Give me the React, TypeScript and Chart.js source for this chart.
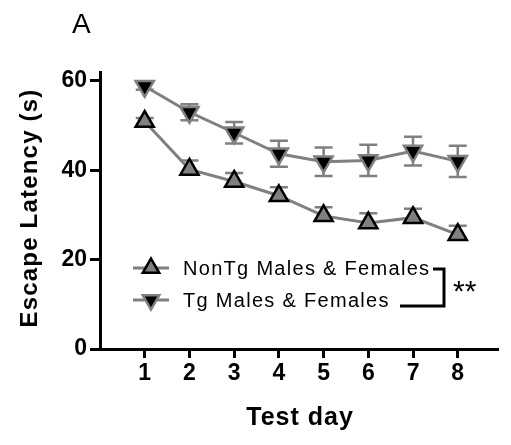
import React, { useEffect, useRef } from "react";
import { Chart, registerables } from "chart.js";

Chart.register(...registerables);

const days = [1, 2, 3, 4, 5, 6, 7, 8];
const nonTgMean = [50.9, 40.2, 37.5, 34.3, 29.8, 28.2, 29.4, 25.6];
const nonTgErr = [0.8, 2.0, 1.9, 1.9, 1.9, 2.2, 2.0, 2.0];
const tgMean = [58.8, 53.0, 48.4, 43.7, 41.9, 42.2, 44.3, 42.0];
const tgErr = [0.8, 1.8, 2.4, 2.9, 3.2, 3.5, 3.2, 3.5];
const yTicks = [0, 20, 40, 60];
const seriesLabels = ["NonTg Males & Females", "Tg Males & Females"];
const xTitle = "Test day";
const yTitle = "Escape Latency (s)";
const panelLabel = "A";
const significance = "**";

const FONT = '"Liberation Sans", Arial, Helvetica, sans-serif';
const GRAY = "#808080";

function triangle(ctx: CanvasRenderingContext2D, x: number, y: number, r: number, down: boolean, fill: string, stroke: string) {
  let rad = down ? Math.PI : 0;
  ctx.beginPath();
  for (let i = 0; i < 3; i++) {
    const px = x + Math.sin(rad) * r;
    const py = y - Math.cos(rad) * r;
    if (i === 0) ctx.moveTo(px, py);
    else ctx.lineTo(px, py);
    rad += (2 * Math.PI) / 3;
  }
  ctx.closePath();
  ctx.fillStyle = fill;
  ctx.fill();
  ctx.lineWidth = 2.5;
  ctx.strokeStyle = stroke;
  ctx.stroke();
}

function setSpacing(ctx: any, px: number) {
  if ("letterSpacing" in ctx) ctx.letterSpacing = `${px}px`;
}

const errorBarPlugin = {
  id: "errorBars",
  beforeDatasetsDraw(chart: any) {
    const ctx = chart.ctx as CanvasRenderingContext2D;
    const xs = chart.scales.x;
    const ys = chart.scales.y;
    const sets = [
      { mean: nonTgMean, err: nonTgErr, down: false },
      { mean: tgMean, err: tgErr, down: true },
    ];
    ctx.save();
    ctx.strokeStyle = GRAY;
    ctx.lineWidth = 2.5;
    for (const s of sets) {
      days.forEach((d, i) => {
        const x = xs.getPixelForValue(d);
        const yt = ys.getPixelForValue(s.mean[i] + s.err[i]);
        const yb = ys.getPixelForValue(s.down ? s.mean[i] - s.err[i] : s.mean[i]);
        ctx.beginPath();
        ctx.moveTo(x, yt);
        ctx.lineTo(x, yb);
        ctx.moveTo(x - 9, yt);
        ctx.lineTo(x + 9, yt);
        if (s.down) {
          ctx.moveTo(x - 9, yb);
          ctx.lineTo(x + 9, yb);
        }
        ctx.stroke();
      });
    }
    ctx.restore();
  },
};

const decorPlugin = {
  id: "decor",
  afterDraw(chart: any) {
    const ctx = chart.ctx as CanvasRenderingContext2D;
    const area = chart.chartArea;
    ctx.save();
    ctx.fillStyle = "#000";
    // panel label
    ctx.font = `28px ${FONT}`;
    ctx.textAlign = "left";
    ctx.textBaseline = "alphabetic";
    setSpacing(ctx, 0);
    ctx.fillText(panelLabel, 72, 33);
    // x title
    ctx.font = `bold 25px ${FONT}`;
    ctx.textAlign = "center";
    ctx.textBaseline = "middle";
    setSpacing(ctx, 1);
    ctx.fillText(xTitle, (area.left + area.right) / 2 + 1, 418);
    // y title
    ctx.save();
    ctx.translate(30, 208);
    ctx.rotate(-Math.PI / 2);
    ctx.font = `bold 24px ${FONT}`;
    setSpacing(ctx, 1.2);
    ctx.fillText(yTitle, 0, 0);
    ctx.restore();

    // legend
    const rows = [
      { y: 268, down: false, fill: GRAY, stroke: "#000" },
      { y: 300, down: true, fill: "#000", stroke: GRAY },
    ];
    rows.forEach((r, i) => {
      ctx.strokeStyle = GRAY;
      ctx.lineWidth = 3;
      ctx.beginPath();
      ctx.moveTo(133, r.y);
      ctx.lineTo(169, r.y);
      ctx.stroke();
      triangle(ctx, 151, r.y, 9.5, r.down, r.fill, r.stroke);
      ctx.fillStyle = "#000";
      ctx.font = `20px ${FONT}`;
      setSpacing(ctx, 1.3);
      ctx.textAlign = "left";
      ctx.textBaseline = "middle";
      ctx.fillText(seriesLabels[i], 183, r.y + 1);
    });
    // bracket
    ctx.strokeStyle = "#000";
    ctx.lineWidth = 3;
    ctx.beginPath();
    ctx.moveTo(433, 269);
    ctx.lineTo(444, 269);
    ctx.lineTo(444, 306);
    ctx.lineTo(400, 306);
    ctx.stroke();
    ctx.font = `30px ${FONT}`;
    setSpacing(ctx, 0);
    ctx.textAlign = "left";
    ctx.textBaseline = "middle";
    ctx.fillStyle = "#000";
    ctx.fillText(significance, 453, 293);
    ctx.restore();
  },
};

export default function App() {
  const ref = useRef<HTMLCanvasElement>(null);
  useEffect(() => {
    if (!ref.current) return;
    const tickFont = { family: FONT, size: 23, weight: "bold" as const };
    const chart = new Chart(ref.current, {
      type: "line",
      data: {
        datasets: [
          {
            label: seriesLabels[0],
            data: days.map((d, i) => ({ x: d, y: nonTgMean[i] })),
            borderColor: GRAY,
            borderWidth: 3,
            pointStyle: "triangle",
            pointRadius: 10.5,
            pointBackgroundColor: GRAY,
            pointBorderColor: "#000",
            pointBorderWidth: 2.5,
            pointRotation: 0,
          },
          {
            label: seriesLabels[1],
            data: days.map((d, i) => ({ x: d, y: tgMean[i] })),
            borderColor: GRAY,
            borderWidth: 3,
            pointStyle: "triangle",
            pointRadius: 10.5,
            pointBackgroundColor: "#000",
            pointBorderColor: GRAY,
            pointBorderWidth: 2.5,
            pointRotation: 180,
          },
        ],
      },
      options: {
        animation: false,
        responsive: false,
        events: [],
        layout: { padding: { top: 72, left: 0, right: 0, bottom: 0 } },
        plugins: { legend: { display: false }, tooltip: { enabled: false } },
        scales: {
          x: {
            type: "linear",
            min: 0,
            max: 8.9,
            afterBuildTicks: (s: any) => {
              s.ticks = days.map((v) => ({ value: v }));
            },
            afterFit: (s: any) => {
              s.height = 96;
            },
            ticks: { font: tickFont, color: "#000", padding: 2, autoSkip: false, maxRotation: 0 },
            grid: { drawOnChartArea: false, drawTicks: true, tickLength: 9, tickWidth: 3, tickColor: "#000" },
            border: { display: true, color: "#000", width: 3 },
          },
          y: {
            min: 0,
            max: 62,
            afterBuildTicks: (s: any) => {
              s.ticks = yTicks.map((v) => ({ value: v }));
            },
            afterFit: (s: any) => {
              s.width = 100;
            },
            ticks: { font: tickFont, color: "#000", padding: 3 },
            grid: { drawOnChartArea: false, drawTicks: true, tickLength: 10, tickWidth: 3, tickColor: "#000" },
            border: { display: true, color: "#000", width: 3 },
          },
        },
      },
      plugins: [errorBarPlugin, decorPlugin],
    });
    return () => chart.destroy();
  }, []);
  return (
    <div style={{ position: "fixed", left: 0, top: 0, width: 511, height: 445, background: "#fff" }}>
      <canvas ref={ref} width={511} height={445} style={{ display: "block" }} />
    </div>
  );
}
